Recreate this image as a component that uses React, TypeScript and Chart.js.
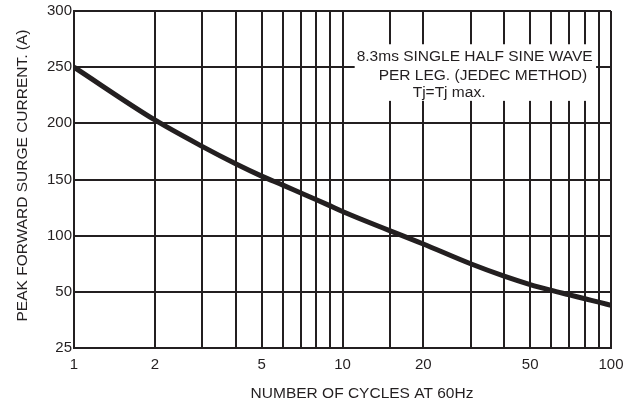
import React, { useEffect, useRef } from "react";
import { Chart, registerables } from "chart.js";

Chart.register(...registerables);

const cycles = [1, 2, 3, 4, 5, 6, 7, 8, 9, 10, 20, 30, 40, 50, 60, 70, 80, 90, 100];
const surgeCurrent = [250, 203, 179.5, 164, 153, 145, 138, 132, 126.5, 121.5, 92.6, 75, 64, 56.5, 51.3, 47.3, 43.8, 40.8, 38];
const xTickLabels = [1, 2, 5, 10, 20, 50, 100];
const yTickLabelMap: Record<number, string> = { 0: "25", 50: "50", 100: "100", 150: "150", 200: "200", 250: "250", 300: "300" };
const noteLines = ["8.3ms SINGLE HALF SINE WAVE", "PER LEG. (JEDEC METHOD)", "Tj=Tj max."];
const noteBoxX = [11.1, 88];
const noteBoxY = [270.4, 220];
const xTitle = "NUMBER OF CYCLES AT 60Hz";
const yTitle = "PEAK FORWARD SURGE CURRENT. (A)";

const INK = "#231f20";
const FONT = "'Liberation Sans', Arial, sans-serif";

const notePlugin = {
  id: "notePlugin",
  afterDatasetsDraw(chart: any) {
    const { ctx, scales, chartArea } = chart;
    const x0 = scales.x.getPixelForValue(noteBoxX[0]);
    const x1 = scales.x.getPixelForValue(noteBoxX[1]);
    const y0 = scales.y.getPixelForValue(noteBoxY[0]);
    const y1 = scales.y.getPixelForValue(noteBoxY[1]);
    ctx.save();
    ctx.fillStyle = "#ffffff";
    ctx.fillRect(x0, y0, x1 - x0, y1 - y0);
    ctx.fillStyle = INK;
    ctx.font = `15.5px ${FONT}`;
    ctx.textAlign = "left";
    ctx.textBaseline = "alphabetic";
    const offsets = [2, 24, 58];
    const baselines = [16.7, 35.3, 52.3];
    noteLines.forEach((t, i) => {
      ctx.fillText(t, x0 + offsets[i], y0 + baselines[i]);
    });

    // axis titles
    ctx.textAlign = "center";
    ctx.textBaseline = "middle";
    const cx = (chartArea.left + chartArea.right) / 2 + 19.5;
    ctx.fillText(xTitle, cx, chart.height - 13);
    ctx.translate(22.5, (chartArea.top + chartArea.bottom) / 2 - 4);
    ctx.rotate(-Math.PI / 2);
    ctx.fillText(yTitle, 0, 0);
    ctx.restore();
  },
};

export default function App() {
  const ref = useRef<HTMLCanvasElement>(null);
  useEffect(() => {
    if (!ref.current) return;
    const chart = new Chart(ref.current, {
      type: "line",
      data: {
        datasets: [
          {
            data: cycles.map((c, i) => ({ x: c, y: surgeCurrent[i] })),
            borderColor: INK,
            borderWidth: 5,
            pointRadius: 0,
            cubicInterpolationMode: "monotone",
            fill: false,
          },
        ],
      },
      options: {
        animation: false,
        responsive: true,
        maintainAspectRatio: false,
        layout: { padding: { top: 10, right: 27, left: 0, bottom: 0 } },
        plugins: { legend: { display: false }, tooltip: { enabled: false } },
        scales: {
          x: {
            type: "logarithmic",
            min: 1,
            max: 100,
            afterFit: (s: any) => {
              s.height = 59;
            },
            grid: { color: INK, lineWidth: 2, drawTicks: false },
            border: { color: INK, width: 2 },
            ticks: {
              autoSkip: false,
              maxRotation: 0,
              padding: 8,
              color: INK,
              font: { family: FONT, size: 15 },
              callback: (v: any) => (xTickLabels.includes(Number(v)) ? String(v) : ""),
            },
            title: { display: false },
          },
          y: {
            type: "linear",
            min: 0,
            max: 300,
            afterFit: (s: any) => {
              s.width = 74;
            },
            grid: { color: INK, lineWidth: 2, drawTicks: false },
            border: { color: INK, width: 2 },
            ticks: {
              stepSize: 50,
              padding: 2,
              color: INK,
              font: { family: FONT, size: 15 },
              callback: (v: any) => yTickLabelMap[Number(v)] ?? "",
            },
            title: { display: false },
          },
        },
      },
      plugins: [notePlugin],
    });
    return () => chart.destroy();
  }, []);
  return (
    <div style={{ position: "absolute", left: 0, top: 0, width: 638, height: 407, background: "#fff" }}>
      <canvas ref={ref} />
    </div>
  );
}
